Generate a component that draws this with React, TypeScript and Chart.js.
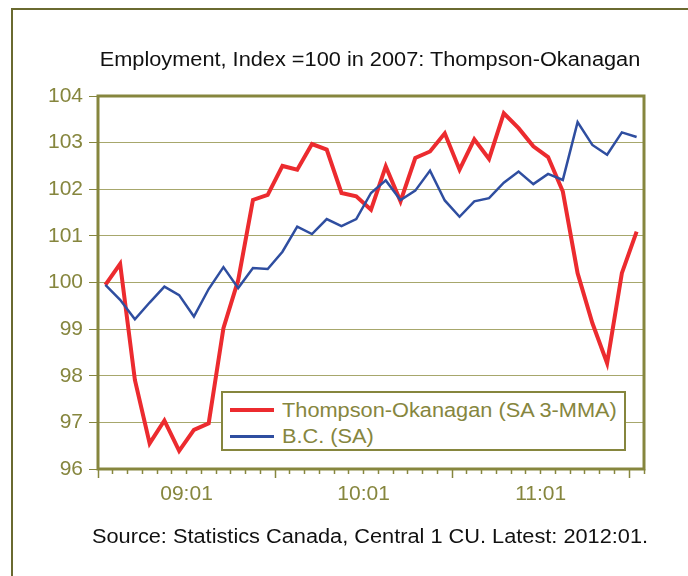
import React, { useEffect, useRef } from "react";
import { Chart, registerables } from "chart.js";

Chart.register(...registerables);

const LABELS = [
  "09:01", "09:02", "09:03", "09:04", "09:05", "09:06", "09:07", "09:08", "09:09", "09:10", "09:11", "09:12",
  "10:01", "10:02", "10:03", "10:04", "10:05", "10:06", "10:07", "10:08", "10:09", "10:10", "10:11", "10:12",
  "11:01", "11:02", "11:03", "11:04", "11:05", "11:06", "11:07", "11:08", "11:09", "11:10", "11:11", "11:12",
  "12:01",
];

const THOMPSON_OKANAGAN = [
  99.95, 100.4, 97.91, 96.55, 97.04, 96.39, 96.84, 96.98, 99.02, 100.05, 101.77, 101.88,
  102.5, 102.42, 102.97, 102.85, 101.92, 101.85, 101.56, 102.49, 101.74, 102.67, 102.81, 103.2,
  102.42, 103.07, 102.65, 103.63, 103.31, 102.92, 102.69, 101.95, 100.2, 99.13, 98.27, 100.2,
  101.09,
];

const BC = [
  99.95, 99.63, 99.21, 99.57, 99.91, 99.73, 99.27, 99.86, 100.33, 99.88, 100.31, 100.29,
  100.66, 101.2, 101.04, 101.36, 101.21, 101.36, 101.92, 102.19, 101.77, 101.97, 102.4, 101.76,
  101.41, 101.74, 101.81, 102.14, 102.38, 102.11, 102.33, 102.2, 103.44, 102.95, 102.74, 103.22,
  103.12,
];

const Y_MIN = 96;
const Y_MAX = 104;

const TITLE = "Employment, Index =100 in 2007: Thompson-Okanagan";
const SOURCE = "Source: Statistics Canada, Central 1 CU. Latest: 2012:01.";
const SERIES_NAMES = ["Thompson-Okanagan (SA 3-MMA)", "B.C. (SA)"];

const OLIVE = "#86863E";
const GRID = "#A7A76C";
const RED = "#EC2B2F";
const BLUE = "#2F4EA0";
const FONT = '"Liberation Sans", Arial, Helvetica, sans-serif';

const areaBorder = {
  id: "areaBorder",
  afterDatasetsDraw(chart: any) {
    const { ctx, chartArea } = chart;
    ctx.save();
    ctx.strokeStyle = OLIVE;
    ctx.lineWidth = 3;
    ctx.strokeRect(chartArea.left, chartArea.top, chartArea.width, chartArea.height);
    ctx.restore();
  },
};

export default function App() {
  const ref = useRef<HTMLCanvasElement | null>(null);

  useEffect(() => {
    if (!ref.current) return;
    const chart = new Chart(ref.current, {
      type: "line",
      data: {
        labels: LABELS,
        datasets: [
          {
            label: SERIES_NAMES[0],
            data: THOMPSON_OKANAGAN,
            borderColor: RED,
            borderWidth: 4,
            pointRadius: 0,
            tension: 0,
            fill: false,
            order: 1,
          },
          {
            label: SERIES_NAMES[1],
            data: BC,
            borderColor: BLUE,
            borderWidth: 2.5,
            pointRadius: 0,
            tension: 0,
            fill: false,
            order: 0,
          },
        ],
      },
      plugins: [areaBorder],
      options: {
        responsive: false,
        animation: false,
        layout: { padding: { left: 0, top: 96, right: 44, bottom: 67 } },
        plugins: {
          legend: { display: false },
          title: { display: false },
          tooltip: { enabled: false },
        },
        scales: {
          x: {
            type: "category",
            offset: true,
            afterFit: (s: any) => {
              s.height = 40;
            },
            border: { display: false },
            grid: {
              offset: true,
              drawOnChartArea: false,
              drawTicks: true,
              tickLength: 9,
              tickColor: OLIVE,
              tickWidth: 1.5,
              tickBorderDash: (ctx: any) => (ctx.index !== undefined && ctx.index % 12 === 0 ? [] : [5, 30]),
            },
            ticks: {
              autoSkip: false,
              maxRotation: 0,
              minRotation: 0,
              padding: 4,
              labelOffset: -7.38,
              color: OLIVE,
              font: { family: FONT, size: 21 },
              callback: (_v: any, index: number) =>
                index % 12 === 6 && index < 36 ? LABELS[index - 6] : "",
            },
          },
          y: {
            type: "linear",
            min: Y_MIN,
            max: Y_MAX,
            afterFit: (s: any) => {
              s.width = 98;
            },
            border: { display: false },
            grid: {
              color: GRID,
              lineWidth: 1,
              tickLength: 9,
              tickColor: OLIVE,
            },
            ticks: {
              stepSize: 1,
              padding: 6,
              color: OLIVE,
              font: { family: FONT, size: 21 },
            },
          },
        },
      },
    });
    return () => chart.destroy();
  }, []);

  const textBase: React.CSSProperties = {
    position: "absolute",
    fontFamily: FONT,
    whiteSpace: "nowrap",
    lineHeight: "22px",
  };

  return (
    <div style={{ position: "relative", width: 688, height: 576, overflow: "hidden", background: "#fff" }}>
      <style>{`html,body{margin:0;padding:0;overflow:hidden;background:#fff}`}</style>
      <div
        style={{
          position: "absolute",
          left: 11,
          top: 8,
          width: 720,
          height: 600,
          borderTop: "2px solid #6A6A30",
          borderLeft: "2px solid #6A6A30",
        }}
      />
      <canvas ref={ref} width={688} height={576} style={{ position: "absolute", left: 0, top: 0 }} />
      <div
        style={{
          ...textBase,
          left: 0,
          width: 740,
          top: 48,
          textAlign: "center",
          fontSize: "19.6px",
          color: "#111",
          transform: "scaleX(1.11)",
          transformOrigin: "370px 0",
        }}
      >
        {TITLE}
      </div>
      <div
        style={{
          ...textBase,
          left: 0,
          width: 740,
          top: 525,
          textAlign: "center",
          fontSize: "19.6px",
          color: "#111",
          transform: "scaleX(1.11)",
          transformOrigin: "370px 0",
        }}
      >
        {SOURCE}
      </div>
      <div
        style={{
          position: "absolute",
          left: 221,
          top: 391,
          width: 405,
          height: 60,
          border: `2px solid ${OLIVE}`,
          background: "#fff",
          boxSizing: "border-box",
        }}
      />
      <div style={{ position: "absolute", left: 230, top: 408, width: 44, height: 4, background: RED }} />
      <div
        style={{
          ...textBase,
          left: 282,
          top: 399,
          fontSize: "19.6px",
          color: OLIVE,
          transform: "scaleX(1.11)",
          transformOrigin: "0 0",
        }}
      >
        {SERIES_NAMES[0]}
      </div>
      <div style={{ position: "absolute", left: 230, top: 435, width: 44, height: 2.5, background: BLUE }} />
      <div
        style={{
          ...textBase,
          left: 282,
          top: 425,
          fontSize: "19.6px",
          color: OLIVE,
          transform: "scaleX(1.11)",
          transformOrigin: "0 0",
        }}
      >
        {SERIES_NAMES[1]}
      </div>
    </div>
  );
}
